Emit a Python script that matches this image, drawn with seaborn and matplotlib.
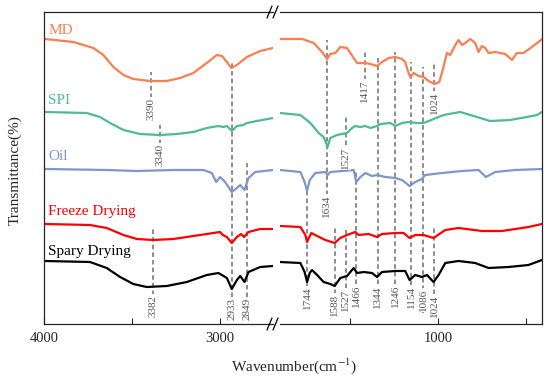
import pandas as pd
import numpy as np
import matplotlib
matplotlib.use("Agg")
import matplotlib.pyplot as plt
import seaborn as sns
from matplotlib.lines import Line2D

# FTIR spectra (wavenumber cm-1, offset transmittance)
samples = ["MD", "SPI", "Oil", "Freeze Drying", "Spary Drying"]
colors = ["#FA7F4F", "#4DBB93", "#7F96CC", "#FF0000", "#000000"]

md_wn = [3994, 3833, 3720, 3663, 3606, 3549, 3493, 3398, 3303, 3227, 3152, 3076, 3019, 2990, 2962,
         2937, 2905, 2848, 2773, 2700,
         1900, 1774, 1708, 1661, 1632, 1614, 1585, 1557, 1519, 1481, 1462, 1415, 1386, 1348, 1320,
         1282, 1244, 1206, 1188, 1169, 1159, 1140, 1112, 1083, 1055, 1021, 994, 970, 951, 932, 903,
         885, 865, 847, 818, 790, 771, 752, 733, 714, 676, 619, 581, 553, 515, 468, 430, 410]
md_t = [285, 282, 276, 269, 257, 249, 245, 243, 243, 246, 251, 261, 269, 268, 262,
        256, 259, 267, 273, 276,
        285, 285, 281, 272, 265, 270, 271, 277, 276, 266, 261, 261, 260, 258, 262,
        266, 267, 265, 262, 251, 247, 251, 248, 247, 243, 240, 242, 257, 271, 269, 279,
        284, 279, 281, 285, 281, 272, 278, 276, 271, 272, 270, 264, 271, 271, 277, 282, 285]

spi_wn = [3994, 3758, 3682, 3625, 3549, 3455, 3341, 3246, 3152, 3076, 3010, 2981, 2962, 2934, 2905,
          2868, 2848, 2792, 2700,
          1900, 1784, 1727, 1680, 1652, 1629, 1614, 1576, 1519, 1490, 1472, 1443, 1415, 1386, 1348,
          1330, 1273, 1244, 1206, 1169, 1121, 1083, 1027, 970, 875, 818, 705, 591, 496, 439, 410]
spi_t = [212, 211, 207, 201, 194, 190, 189, 190, 192, 196, 198, 197, 198, 193, 198,
         199, 201, 203, 206,
         211, 209, 201, 191, 187, 177, 186, 189, 191, 196, 198, 197, 198, 196, 198,
         200, 201, 198, 201, 202, 201, 201, 205, 209, 212, 209, 203, 204, 207, 209, 212]

oil_wn = [3994, 3644, 3473, 3265, 3095, 3047, 3023, 3000, 2972, 2934, 2905, 2886, 2862, 2839, 2801, 2700,
          1900, 1784, 1760, 1746, 1731, 1699, 1642, 1629, 1614, 1547, 1481, 1466, 1443, 1415, 1377,
          1348, 1301, 1244, 1206, 1163, 1131, 1093, 1074, 979, 865, 771, 729, 676, 562, 410]
oil_t = [155, 154, 153, 154, 154, 151, 142, 147, 142, 132, 136, 139, 134, 146, 152, 154,
         154, 152, 142, 133, 144, 151, 152, 149, 152, 153, 154, 142, 147, 151, 148,
         149, 147, 146, 144, 138, 142, 145, 149, 151, 153, 154, 147, 152, 154, 155]

fd_wn = [3994, 3739, 3644, 3549, 3473, 3379, 3265, 3152, 3038, 3000, 2985, 2962, 2934, 2905, 2881,
         2864, 2839, 2773, 2700,
         1900, 1784, 1756, 1746, 1722, 1689, 1642, 1589, 1557, 1519, 1472, 1453, 1396, 1348, 1320,
         1244, 1197, 1163, 1131, 1083, 1027, 960, 885, 752, 638, 487, 410]
fd_t = [100, 99, 96, 89, 85, 84, 85, 88, 91, 92, 89, 87, 81, 87, 90,
        87, 92, 95, 95,
        98, 97, 89, 82, 91, 88, 84, 81, 86, 89, 92, 89, 90, 87, 90,
        91, 91, 86, 89, 89, 86, 94, 96, 93, 93, 97, 100]

sd_wn = [3994, 3739, 3644, 3568, 3493, 3417, 3303, 3189, 3076, 3010, 2990, 2962, 2934, 2905, 2886,
         2862, 2839, 2773, 2700,
         1900, 1784, 1760, 1746, 1731, 1718, 1689, 1652, 1614, 1589, 1557, 1519, 1481, 1462, 1424,
         1377, 1348, 1320, 1244, 1188, 1163, 1131, 1093, 1064, 1027, 998, 960, 885, 790, 714, 600,
         487, 410]
sd_t = [63, 62, 56, 47, 40, 37, 38, 42, 49, 51, 49, 46, 35, 44, 48,
        42, 52, 57, 58,
        62, 61, 52, 42, 51, 54, 49, 42, 40, 38, 46, 48, 56, 51, 52,
        51, 47, 52, 53, 53, 44, 49, 47, 49, 42, 49, 61, 63, 61, 56, 57,
        59, 64]

# peak labels
peak_labels = ["3390", "3340", "3382", "2933", "2849",
               "1744", "1634", "1588", "1527", "1527", "1466", "1417", "1344",
               "1246", "1154", "1086", "1024", "1024"]
peak_wn = [3390, 3340, 3382, 2933, 2849,
           1744, 1634, 1588, 1527, 1527, 1466, 1417, 1344,
           1246, 1154, 1086, 1024, 1024]
# dashed guide extents (top, bottom) and label centre, offset units
peak_top = [252, 199, 96, 262, 161, 134, 284, 97, 209, 97, 154, 274, 269, 272, 262, 257, 261, 96]
peak_bot = [203, 157, 6, 4, 4, 14, 106, 7, 156, 13, 17, 221, 17, 17, 16, 11, 209, 7]
peak_lab = [215, 169, 18, 15, 15, 26, 118, 19, 166, 24, 28, 233, 27, 28, 27, 24, 221, 18]

rows = []
for name, wn, t in [("MD", md_wn, md_t), ("SPI", spi_wn, spi_t), ("Oil", oil_wn, oil_t),
                    ("Freeze Drying", fd_wn, fd_t), ("Spary Drying", sd_wn, sd_t)]:
    for i, (a, b) in enumerate(zip(wn, t)):
        rows.append({"sample": name, "wn": a, "t": b, "order": i})
df = pd.DataFrame(rows)

sns.set_style("ticks")
plt.rcParams['font.family'] = ['Liberation Serif', 'DejaVu Serif']
plt.rcParams['mathtext.fontset'] = 'stix'

fig = plt.figure(figsize=(5.5, 3.8), dpi=100)
axl = fig.add_axes([44 / 550, 56 / 380, 229 / 550, 312 / 380])
axr = fig.add_axes([280 / 550, 56 / 380, 262 / 550, 312 / 380])

pal = dict(zip(samples, colors))
for ax, lo, hi in [(axl, 2650, 4100), (axr, 300, 1950)]:
    sub = df[(df.wn >= lo) & (df.wn <= hi)]
    sns.lineplot(data=sub, x="wn", y="t", hue="sample", palette=pal, estimator=None,
                 sort=False, units="sample", legend=False, linewidth=1.6, ax=ax)
    ax.set_ylim(0, 312)
    ax.set_yticks([])
    ax.set_xlabel("")
    ax.set_ylabel("")
    ax.tick_params(axis="x", direction="in", length=4, width=0.8, pad=6, labelsize=10.5)
    for s in ax.spines.values():
        s.set_linewidth(0.9)

axl.set_xlim(4000, 2700)
axl.set_xticks([4000, 3500, 3000])
axl.set_xticklabels(["4000", "", "3000"])
axl.spines["right"].set_visible(False)
axr.set_xlim(1900, 410)
axr.set_xticks([1500, 1000, 500])
axr.set_xticklabels(["", "1000", ""])
axr.spines["left"].set_visible(False)

# dashed guides and peak labels
for lab, w, top, bot, ly in zip(peak_labels, peak_wn, peak_top, peak_bot, peak_lab):
    ax = axl if w > 2000 else axr
    ax.plot([w, w], [bot, top], color="#6e6e6e", lw=1.1, ls=(0, (3, 2)), zorder=1)
    ax.text(w, ly, lab, rotation=90, ha="center", va="center", fontsize=8, color="#555555",
            bbox=dict(facecolor="white", edgecolor="none", pad=0.6), zorder=3)

# sample names
name_y = [294, 224, 167, 112, 73]
for name, c, y in zip(samples, colors, name_y):
    axl.text(3975, y, name, color=c, fontsize=11, ha="left", va="center")

# axis break marks
for py in (12, 324):
    for x0 in (267, 273):
        fig.add_artist(Line2D([x0 / 550, (x0 + 5) / 550], [1 - (py + 6) / 380, 1 - (py - 6) / 380],
                              color="black", lw=0.9))

fig.text(294 / 550, 1 - 366 / 380, "Wavenumber(cm$^{-1}$)", ha="center", va="center", fontsize=11)
fig.text(15 / 550, 1 - 170 / 380, "Transmittance(%)", rotation=90, ha="center", va="center", fontsize=11)

plt.savefig("out.png", dpi=100)
